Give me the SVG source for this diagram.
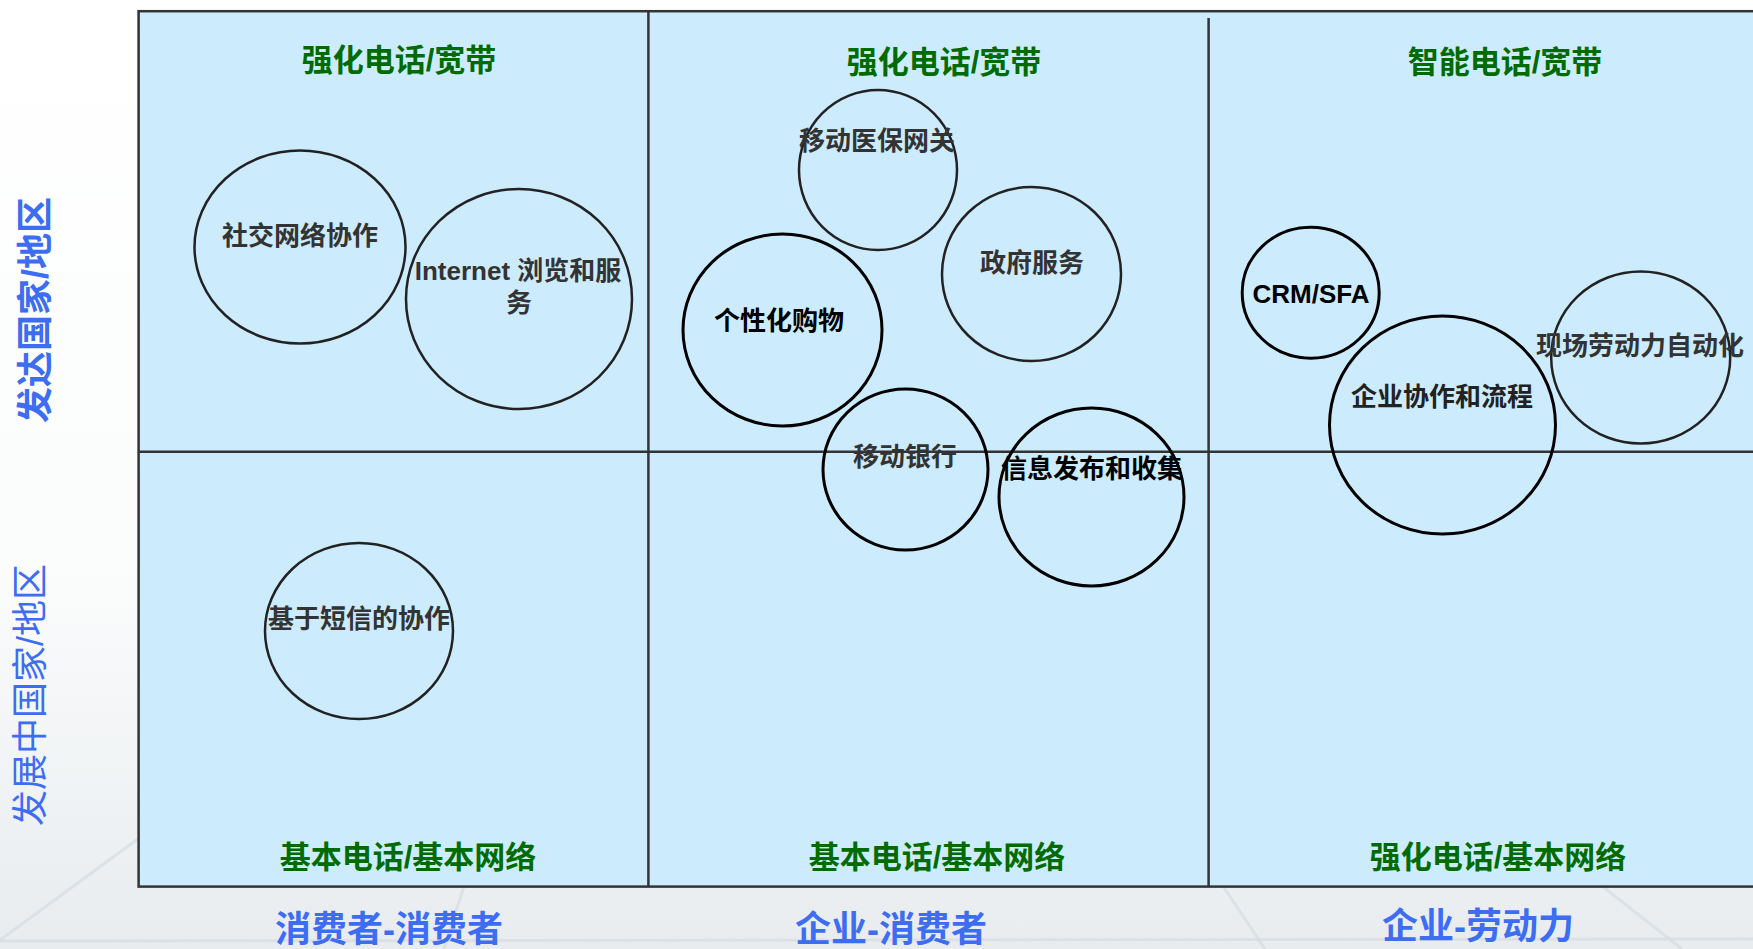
<svg xmlns="http://www.w3.org/2000/svg" width="1753" height="949" viewBox="0 0 1753 949">
<defs>
<linearGradient id="bg" x1="0" y1="0" x2="0" y2="1">
<stop offset="0" stop-color="#ffffff"/>
<stop offset="0.6" stop-color="#fbfcfc"/>
<stop offset="1" stop-color="#e8ecef"/>
</linearGradient>
<style>
.grid{stroke:#333333;stroke-width:2.5;fill:none}
.panel{fill:#CCEBFC;stroke:#333333;stroke-width:2.5}
.c{fill:none;stroke:#222222;stroke-width:2.5}
.cb{fill:none;stroke:#000000;stroke-width:3}
.t{font-family:"Liberation Sans","Noto Sans CJK SC",sans-serif;font-weight:bold;font-size:26px;text-anchor:middle;fill:#333333}
.tb{fill:#000000}
.ttl{font-family:"Liberation Sans","Noto Sans CJK SC",sans-serif;font-weight:bold;font-size:31px;text-anchor:middle;fill:#006B00}
.ax{font-family:"Liberation Sans","Noto Sans CJK SC",sans-serif;font-weight:bold;font-size:36px;text-anchor:middle;fill:#3D6DF2}
.axn{font-weight:normal}
.streak{stroke:#d5dbe0;stroke-width:3;fill:none;opacity:0.7}
</style>
</defs>
<rect x="0" y="0" width="1753" height="949" fill="url(#bg)"/>
<g id="background-streaks">
<path class="streak" d="M0 940 L150 830"/>
<path class="streak" d="M464 886 L444 949"/>
<path class="streak" d="M1223 886 L1265 949"/>
<path class="streak" d="M1602 886 L1682 949"/>
<path class="streak" d="M0 941 L1753 939" opacity="0.4"/>
</g>
<g id="grid">
<rect class="panel" x="138.6" y="11.2" width="1640" height="875.4"/>
<line class="grid" x1="138.6" y1="451.7" x2="1753" y2="451.7"/>
<line class="grid" x1="648.4" y1="11.2" x2="648.4" y2="886.6"/>
<line class="grid" x1="1208.6" y1="17.9" x2="1208.6" y2="886.6"/>
</g>
<g id="connectors"></g>
<g id="quadrant-titles">
<text class="ttl" x="399" y="71">强化电话/宽带</text>
<text class="ttl" x="944" y="73">强化电话/宽带</text>
<text class="ttl" x="1505" y="73">智能电话/宽带</text>
<text class="ttl" x="408" y="868">基本电话/基本网络</text>
<text class="ttl" x="937" y="868">基本电话/基本网络</text>
<text class="ttl" x="1498" y="868">强化电话/基本网络</text>
</g>
<g id="axis-labels">
<text class="ax" x="389" y="942">消费者-消费者</text>
<text class="ax" x="891" y="942">企业-消费者</text>
<text class="ax" x="1478" y="939">企业-劳动力</text>
<text class="ax" transform="translate(35.4,310) rotate(-90)" x="0" y="13">发达国家/地区</text>
<text class="ax axn" transform="translate(30,695) rotate(-90)" x="0" y="13">发展中国家/地区</text>
</g>
<g id="node-social">
<ellipse class="c" cx="300" cy="247" rx="105.5" ry="96.5"/>
<text class="t" x="300" y="244.5">社交网络协作</text>
</g>
<g id="node-internet">
<ellipse class="c" cx="519" cy="299" rx="113" ry="110"/>
<text class="t" x="518" y="279.5">Internet 浏览和服</text>
<text class="t" x="519" y="311.5">务</text>
</g>
<g id="node-mhealth">
<ellipse class="c" cx="878" cy="170" rx="79" ry="80"/>
<text class="t" x="877" y="149.5">移动医保网关</text>
</g>
<g id="node-gov">
<ellipse class="c" cx="1031.5" cy="274" rx="89.5" ry="87"/>
<text class="t" x="1032" y="271.5">政府服务</text>
</g>
<g id="node-shopping">
<ellipse class="cb" cx="782.5" cy="330" rx="99.5" ry="96"/>
<text class="t tb" x="779" y="329.5">个性化购物</text>
</g>
<g id="node-mbank">
<ellipse class="cb" cx="905.5" cy="469.5" rx="82.5" ry="80.5"/>
<text class="t" x="905" y="466">移动银行</text>
</g>
<g id="node-info">
<ellipse class="cb" cx="1091.5" cy="497" rx="92.5" ry="89"/>
<text class="t tb" x="1092" y="477.5">信息发布和收集</text>
</g>
<g id="node-crm">
<ellipse class="cb" cx="1310.7" cy="292.7" rx="68.5" ry="65.5"/>
<text class="t tb" x="1311" y="302.5">CRM/SFA</text>
</g>
<g id="node-enterprise">
<ellipse class="cb" cx="1442.5" cy="425" rx="113" ry="109"/>
<text class="t" x="1442" y="405.5" style="fill:#222222">企业协作和流程</text>
</g>
<g id="node-field">
<ellipse class="c" cx="1640.7" cy="357.5" rx="89.5" ry="86"/>
<text class="t" x="1640" y="355">现场劳动力自动化</text>
</g>
<g id="node-sms">
<ellipse class="c" cx="359" cy="631" rx="94" ry="88"/>
<text class="t" x="359" y="627.5">基于短信的协作</text>
</g>
</svg>
